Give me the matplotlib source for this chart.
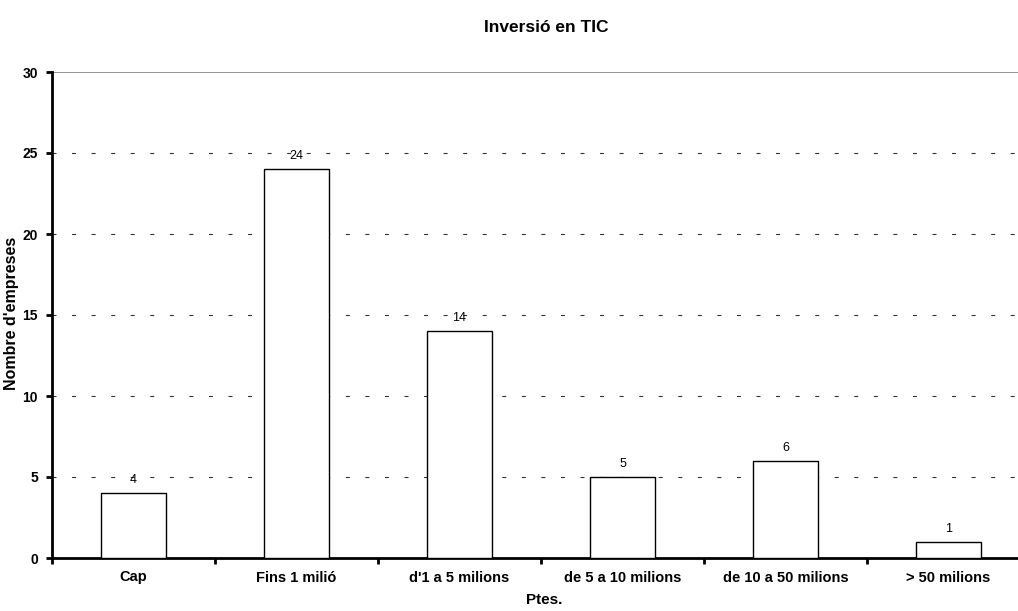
import matplotlib
matplotlib.use("Agg")
import matplotlib.pyplot as plt
import numpy as np

plt.rcParams['font.family'] = ['Liberation Sans', 'DejaVu Sans']

categories = ["Cap", "Fins 1 milió", "d'1 a 5 milions", "de 5 a 10 milions",
              "de 10 a 50 milions", "> 50 milions"]
values = [4, 24, 14, 5, 6, 1]
yticks = [0, 5, 10, 15, 20, 25, 30]

fig = plt.figure(figsize=(10.18, 6.11), dpi=100)
W, H = 1018, 611
left, right, top, bottom = 52, 1030, 72, 558
ax = fig.add_axes([left / W, 1 - bottom / H, (right - left) / W, (bottom - top) / H])

x = np.arange(len(categories))
ax.bar(x, values, width=0.4, color='white', edgecolor='black', linewidth=1.0, zorder=3)
for xi, v in zip(x, values):
    ax.annotate(str(v), (xi, v), xytext=(0, 5), textcoords='offset points',
                ha='center', va='bottom', fontsize=9, zorder=4)

ax.set_xlim(-0.5, len(categories) - 0.5)
ax.set_ylim(0, 30)
ax.set_yticks(yticks)
ax.set_yticklabels([str(t) for t in yticks], fontsize=10, fontweight='bold')
ax.set_xticks(x)
ax.set_xticklabels(categories, fontsize=10.5, fontweight='bold')
ax.tick_params(axis='x', which='major', length=0, pad=9)
ax.set_xticks(np.arange(-0.5, len(categories), 1.0), minor=True)
ax.tick_params(axis='x', which='minor', length=4, width=2, direction='out')
ax.tick_params(axis='y', length=4, width=2, direction='out', pad=6)

for t in yticks[1:-1]:
    ax.axhline(t, color='#333333', linewidth=0.8, dashes=(3.6, 14), zorder=1)
ax.axhline(30, color='#808080', linewidth=1.2, zorder=1)

for s in ['right', 'top']:
    ax.spines[s].set_visible(False)
ax.spines['left'].set_linewidth(2)
ax.spines['bottom'].set_linewidth(2)

fig.text(546 / W, 1 - 27 / H, "Inversió en TIC", ha='center', va='center',
         fontsize=12.5, fontweight='bold')
fig.text(544 / W, 1 - 600 / H, "Ptes.", ha='center', va='center',
         fontsize=11, fontweight='bold')
fig.text(12 / W, 1 - 313 / H, "Nombre d'empreses", ha='center', va='center',
         rotation=90, fontsize=11.5, fontweight='bold')

fig.savefig("out.png", dpi=100)
